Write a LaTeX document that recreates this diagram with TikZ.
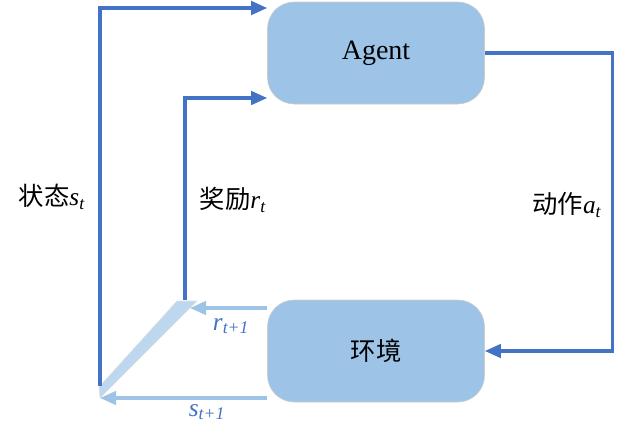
\documentclass[tikz,border=0pt]{standalone}
\usepackage{fontspec}
\setmainfont{Liberation Serif}
\newfontfamily\zhfont{Noto Sans CJK SC}
\usetikzlibrary{arrows.meta,calc}

\definecolor{lineblue}{HTML}{4472C4}
\definecolor{boxblue}{HTML}{9DC3E6}
\definecolor{barblue}{HTML}{BDD7EE}

\tikzset{
  box/.style={draw=black!20, rounded corners=20, fill=boxblue,
    minimum width=217*0.75pt, minimum height=102*0.75pt, inner sep=0pt},
  flow/.style={lineblue, line width=2.4pt, -{Triangle[length=12pt,width=10pt]}},
  back/.style={boxblue, line width=2.4pt, -{Triangle[length=12pt,width=10pt]}},
  lab/.style={font=\fontsize{19}{22}\selectfont, inner sep=0pt},
}

\begin{document}
\begin{tikzpicture}[x=0.75pt, y=-0.75pt]
\useasboundingbox (0,0) rectangle (617,439);

\node[box, font=\fontsize{21}{24}\selectfont] (agent) at (376,53) {Agent};
\node[box, font=\zhfont\fontsize{19}{24}\selectfont] (env) at (376,351) {环境};

% feet of the two lines on the left
\coordinate (sfoot) at (100,386);
\coordinate (rfoot) at (185,300);
\coordinate (rtip) at (190,308);
\coordinate (stip) at (100,398);

% the slanted bar
\fill[barblue, draw=black!12] (177,301) -- (197,301) -- (100,398) -- (99,387) -- cycle;

\draw[flow] (sfoot) |- ($(agent.west)+(0,-45)$);
\draw[flow] (rfoot) |- ($(agent.west)+(0,45)$);
\draw[flow] (agent.east) -- ++(128,0) |- (env.east);

\draw[back] ($(env.west)+(0,-43)$) -- (rtip);
\draw[back] ($(env.west)+(0,47)$) -- (stip);

\node[lab] (state) at (52,197) {{\zhfont 状态}\textit{s}\textsubscript{\textit{t}}};
\node[lab] (reward) at (233,200) {{\zhfont 奖励}\textit{r}\textsubscript{\textit{t}}};
\node[lab] (action) at (567,205) {{\zhfont 动作}\textit{a}\textsubscript{\textit{t}}};
\node[lab, lineblue] (rnext) at (231,326) {\textit{r}\textsubscript{\textit{t+1}}};
\node[lab, lineblue] (snext) at (207,412) {\textit{s}\textsubscript{\textit{t+1}}};

\end{tikzpicture}
\end{document}
